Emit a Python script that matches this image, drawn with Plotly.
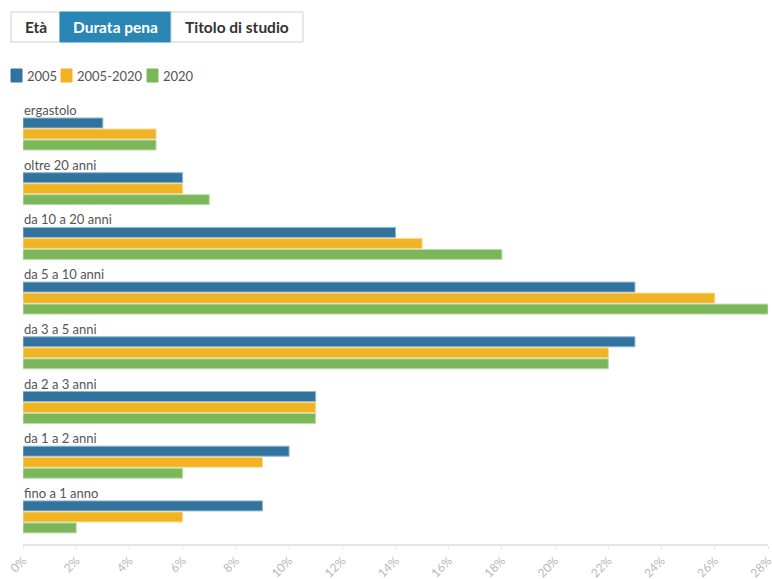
import plotly.graph_objects as go

categories = ["ergastolo", "oltre 20 anni", "da 10 a 20 anni", "da 5 a 10 anni",
              "da 3 a 5 anni", "da 2 a 3 anni", "da 1 a 2 anni", "fino a 1 anno"]
series_names = ["2005", "2005-2020", "2020"]
v2005 = [3, 6, 14, 23, 23, 11, 10, 9]
v2005_2020 = [5, 6, 15, 26, 22, 11, 9, 6]
v2020 = [5, 7, 18, 28, 22, 11, 6, 2]
colors = ["#32739e", "#f0b323", "#7bb65a"]
line_colors = ["#8fb6d2", "#f8d98f", "#bcdcab"]
tick_vals = list(range(0, 30, 2))
tick_text = [f"{v}%" for v in tick_vals]

W, H = 772, 579
ML, MR, MT, MB = 23, 4, 100, 35
PW, PH = W - ML - MR, H - MT - MB
UNIT = 54.7  # px per category
top_off = 34 / UNIT
y_range = [PH / UNIT - top_off, -top_off]

pitch = 11 / UNIT
bw = 10 / UNIT

fig = go.Figure()
ypos = list(range(len(categories)))
for k, (name, vals) in enumerate(zip(series_names, [v2005, v2005_2020, v2020])):
    fig.add_trace(go.Bar(
        x=vals, y=ypos, orientation="h", name=name,
        width=bw, offset=(k - 1) * pitch - bw / 2,
        marker=dict(color=colors[k], line=dict(color=line_colors[k], width=1)),
        showlegend=False, hovertemplate="%{x}%<extra>" + name + "</extra>",
    ))

annotations = []
for i, c in enumerate(categories):
    annotations.append(dict(x=0, y=i - 24 / UNIT, xref="x", yref="y", text=c,
                            showarrow=False, xanchor="left", yanchor="middle",
                            xshift=-1, font=dict(size=13, color="#555")))

def px(x):
    return (x - ML) / PW

def py(y):
    return (H - MB - y) / PH

shapes = []
# buttons
btns = [("Età", 11, 60, False), ("Durata pena", 60, 171, True), ("Titolo di studio", 171, 303, False)]
for label, x0, x1, active in btns:
    shapes.append(dict(type="rect", xref="paper", yref="paper",
                       x0=px(x0), x1=px(x1), y0=py(42), y1=py(12),
                       fillcolor="#2a86b5" if active else "white",
                       line=dict(color="#2a86b5" if active else "#d0d0d0", width=1)))
    annotations.append(dict(x=px((x0 + x1) / 2), y=py(27), xref="paper", yref="paper",
                            text="<b>" + label + "</b>", showarrow=False,
                            xanchor="center", yanchor="middle",
                            font=dict(size=15.5, color="white" if active else "#333")))
# legend
leg = [(11, 25), (61, 75), (147, 161)]
for k, (sx, tx) in enumerate(leg):
    shapes.append(dict(type="rect", xref="paper", yref="paper",
                       x0=px(sx), x1=px(sx + 11), y0=py(82), y1=py(69),
                       fillcolor=colors[k], line=dict(color=colors[k], width=1)))
    annotations.append(dict(x=px(tx), y=py(76), xref="paper", yref="paper",
                            text=series_names[k], showarrow=False,
                            xanchor="left", yanchor="middle",
                            font=dict(size=13, color="#555")))

fig.update_layout(
    width=W, height=H,
    margin=dict(l=ML, r=MR, t=MT, b=MB, autoexpand=False),
    paper_bgcolor="white", plot_bgcolor="white",
    font=dict(family="Lato, 'Source Sans Pro', sans-serif"),
    barmode="overlay",
    xaxis=dict(range=[0, 28.0001], tickmode="array", tickvals=tick_vals, ticktext=tick_text,
               tickangle=-45, automargin=False, ticklabeloverflow="allow",
               showgrid=False, zeroline=False, showline=True, linecolor="#e6e6e6",
               linewidth=2, ticks="outside", ticklen=3, tickcolor="#e6e6e6",
               tickfont=dict(size=12, color="#b8b8b8")),
    yaxis=dict(range=y_range, showticklabels=False, showgrid=False, zeroline=False,
               showline=False, automargin=False),
    shapes=shapes, annotations=annotations,
)
fig.write_html("out.html")
